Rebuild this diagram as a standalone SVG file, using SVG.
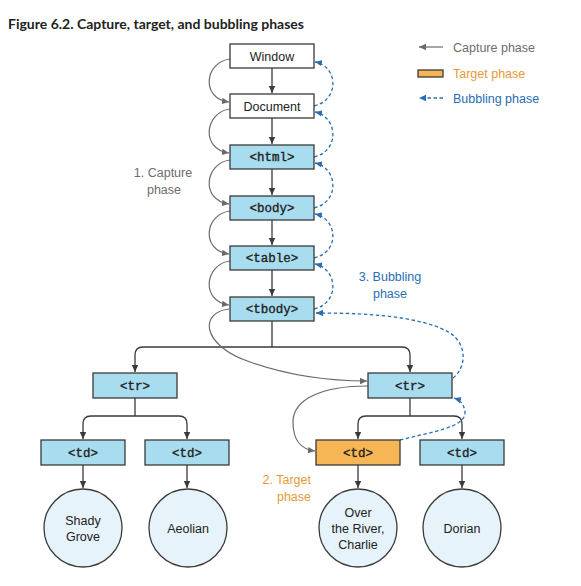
<svg xmlns="http://www.w3.org/2000/svg" width="581" height="586" viewBox="0 0 581 586">
<style>
.box{fill:#a8dcef;stroke:#3a3a3a;stroke-width:1.3}
.wbox{fill:#fff;stroke:#3a3a3a;stroke-width:1.3}
.obox{fill:#f6b655;stroke:#3a3a3a;stroke-width:1.3}
.circ{fill:#e7f3fa;stroke:#3a3a3a;stroke-width:1.3}
.mono{font-family:"Liberation Mono","Courier New",monospace;font-size:12.5px;fill:#222;stroke:#222;stroke-width:0.35;text-anchor:middle}
.sans{font-family:"Liberation Sans",Arial,sans-serif;font-size:12.5px;fill:#222;text-anchor:middle}
.lbl{font-family:"Liberation Sans",Arial,sans-serif;font-size:12.5px}
.tree{fill:none;stroke:#3a3a3a;stroke-width:1.3}
.cap{fill:none;stroke:#6a6a6a;stroke-width:1.2}
.bub{fill:none;stroke:#2a6db5;stroke-width:1.3;stroke-dasharray:3.5,2.5}
</style>
<defs>
<marker id="aD" markerUnits="userSpaceOnUse" markerWidth="8" markerHeight="8" refX="7" refY="4" orient="auto"><path d="M0,0.8 L7,4 L0,7.2 Z" fill="#3a3a3a"/></marker>
<marker id="aG" markerUnits="userSpaceOnUse" markerWidth="8" markerHeight="8" refX="7" refY="4" orient="auto"><path d="M0,0.8 L7,4 L0,7.2 Z" fill="#6a6a6a"/></marker>
<marker id="aB" markerUnits="userSpaceOnUse" markerWidth="8" markerHeight="8" refX="7" refY="4" orient="auto"><path d="M0,0.8 L7,4 L0,7.2 Z" fill="#2a6db5"/></marker>
</defs>
<rect width="581" height="586" fill="#fff"/>
<text x="8" y="28.5" style="font-family:Lato,'Liberation Sans',sans-serif;font-weight:bold;font-size:14px;fill:#222">Figure 6.2. Capture, target, and bubbling phases</text>

<g id="legend">
<line x1="443" y1="47" x2="419" y2="47" class="cap" marker-end="url(#aG)"/>
<text x="453" y="51.5" class="lbl" fill="#6d6d6d">Capture phase</text>
<rect x="418" y="70" width="25" height="7" class="obox"/>
<text x="453" y="77.5" class="lbl" fill="#e49a3a">Target phase</text>
<line x1="443" y1="98" x2="419" y2="98" class="bub" marker-end="url(#aB)"/>
<text x="453" y="102.5" class="lbl" fill="#2a6db5">Bubbling phase</text>
</g>

<g id="connectors">
<path class="tree" d="M272,68 V93" marker-end="url(#aD)"/>
<path class="tree" d="M272,118 V144" marker-end="url(#aD)"/>
<path class="tree" d="M272,169 V195" marker-end="url(#aD)"/>
<path class="tree" d="M272,220 V245" marker-end="url(#aD)"/>
<path class="tree" d="M272,270 V296" marker-end="url(#aD)"/>
<path class="tree" d="M272,321 V347"/>
<path class="tree" d="M272,347 H143 Q135,347 135,355 V372" marker-end="url(#aD)"/>
<path class="tree" d="M272,347 H402 Q410,347 410,355 V372" marker-end="url(#aD)"/>
<path class="tree" d="M135,398 V416"/>
<path class="tree" d="M135,416 H91 Q83,416 83,424 V439" marker-end="url(#aD)"/>
<path class="tree" d="M135,416 H179 Q187,416 187,424 V439" marker-end="url(#aD)"/>
<path class="tree" d="M410,398 V416"/>
<path class="tree" d="M410,416 H366 Q358,416 358,424 V439" marker-end="url(#aD)"/>
<path class="tree" d="M410,416 H454 Q462,416 462,424 V439" marker-end="url(#aD)"/>
<path class="tree" d="M83,465 V488" marker-end="url(#aD)"/>
<path class="tree" d="M187,465 V488" marker-end="url(#aD)"/>
<path class="tree" d="M358,465 V488" marker-end="url(#aD)"/>
<path class="tree" d="M462,465 V488" marker-end="url(#aD)"/>

<path class="cap" d="M230,59 C205,62 200,98 229,102" marker-end="url(#aG)"/>
<path class="cap" d="M230,109 C205,112 200,149 229,153" marker-end="url(#aG)"/>
<path class="cap" d="M230,160 C205,163 200,200 229,204" marker-end="url(#aG)"/>
<path class="cap" d="M230,211 C205,214 200,250 229,254" marker-end="url(#aG)"/>
<path class="cap" d="M230,261 C205,264 200,301 229,305" marker-end="url(#aG)"/>
<path class="cap" d="M229,309 C200,312 200,345 250,362 C290,376 330,381 367,381" marker-end="url(#aG)"/>
<path class="cap" d="M368,386 C320,386 293,400 293,422 C293,440 300,449 315,451" marker-end="url(#aG)"/>

<path class="bub" d="M314,106 C340,100 338,66 315,62" marker-end="url(#aB)"/>
<path class="bub" d="M314,157 C340,151 338,117 315,112" marker-end="url(#aB)"/>
<path class="bub" d="M314,208 C340,202 338,168 315,163" marker-end="url(#aB)"/>
<path class="bub" d="M314,258 C340,252 338,219 315,214" marker-end="url(#aB)"/>
<path class="bub" d="M314,309 C340,303 338,269 315,264" marker-end="url(#aB)"/>
<path class="bub" d="M453,378 C466,368 468,345 450,333 C420,315 360,313 316,313" marker-end="url(#aB)"/>
<path class="bub" d="M400,440 C430,432 466,428 465,412 C464,404 460,400 454,398" marker-end="url(#aB)"/>
</g>

<g id="window"><rect x="230" y="44" width="84" height="24" class="wbox"/><text x="272" y="60.5" class="sans">Window</text></g>
<g id="document"><rect x="230" y="94" width="84" height="24" class="wbox"/><text x="272" y="110.5" class="sans">Document</text></g>
<g id="html"><rect x="230" y="145" width="84" height="24" class="box"/><text x="272" y="161" class="mono">&lt;html&gt;</text></g>
<g id="body"><rect x="230" y="196" width="84" height="24" class="box"/><text x="272" y="212" class="mono">&lt;body&gt;</text></g>
<g id="table"><rect x="230" y="246" width="84" height="24" class="box"/><text x="272" y="262" class="mono">&lt;table&gt;</text></g>
<g id="tbody"><rect x="230" y="297" width="84" height="24" class="box"/><text x="272" y="313" class="mono">&lt;tbody&gt;</text></g>
<g id="tr1"><rect x="93" y="373" width="84" height="25" class="box"/><text x="135" y="389.5" class="mono">&lt;tr&gt;</text></g>
<g id="tr2"><rect x="368" y="373" width="84" height="25" class="box"/><text x="410" y="389.5" class="mono">&lt;tr&gt;</text></g>
<g id="td1"><rect x="41" y="440" width="84" height="25" class="box"/><text x="83" y="456.5" class="mono">&lt;td&gt;</text></g>
<g id="td2"><rect x="145" y="440" width="84" height="25" class="box"/><text x="187" y="456.5" class="mono">&lt;td&gt;</text></g>
<g id="td3"><rect x="316" y="440" width="84" height="25" class="obox"/><text x="358" y="456.5" class="mono">&lt;td&gt;</text></g>
<g id="td4"><rect x="420" y="440" width="84" height="25" class="box"/><text x="462" y="456.5" class="mono">&lt;td&gt;</text></g>

<g id="c1"><circle cx="83" cy="528" r="39" class="circ"/><text x="83" y="524.5" class="sans">Shady</text><text x="83" y="540.5" class="sans">Grove</text></g>
<g id="c2"><circle cx="188" cy="528" r="39" class="circ"/><text x="188" y="532.5" class="sans">Aeolian</text></g>
<g id="c3"><circle cx="358" cy="528" r="39" class="circ"/><text x="358" y="516.5" class="sans">Over</text><text x="358" y="532.5" class="sans">the River,</text><text x="358" y="548.5" class="sans">Charlie</text></g>
<g id="c4"><circle cx="462" cy="528" r="39" class="circ"/><text x="462" y="532.5" class="sans">Dorian</text></g>

<g id="labels">
<text x="163" y="177" class="lbl" fill="#6d6d6d" text-anchor="middle">1. Capture</text>
<text x="164" y="193.5" class="lbl" fill="#6d6d6d" text-anchor="middle">phase</text>
<text x="390" y="281" class="lbl" fill="#2a6db5" text-anchor="middle">3. Bubbling</text>
<text x="390" y="298" class="lbl" fill="#2a6db5" text-anchor="middle">phase</text>
<text x="311" y="484" class="lbl" fill="#e49a3a" text-anchor="end">2. Target</text>
<text x="311" y="500.5" class="lbl" fill="#e49a3a" text-anchor="end">phase</text>
</g>
</svg>
